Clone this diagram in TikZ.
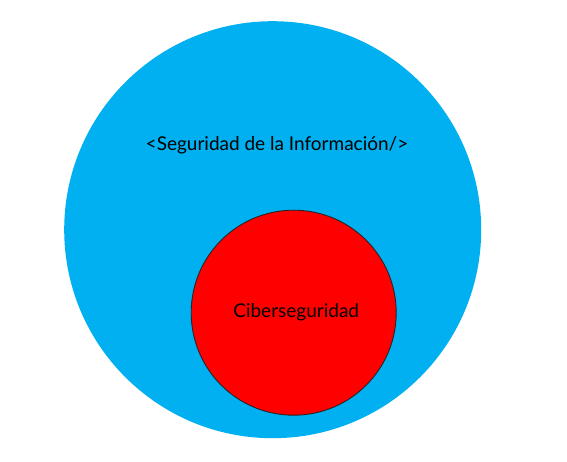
\documentclass[tikz,border=0pt]{standalone}
\usepackage{fontspec}
\setmainfont{Lato}
\usepackage{tikz}
\usetikzlibrary{positioning}
\definecolor{celeste}{HTML}{00B0F0}
\definecolor{rojo}{HTML}{FF0000}

\begin{document}
\begin{tikzpicture}[
  x=1pt, y=1pt,
  font=\fontsize{19}{22}\selectfont,
  big/.style={circle, fill=celeste, draw=none, minimum size=417pt, inner sep=0pt},
  small/.style={circle, fill=rojo, draw=black!85, line width=0.9pt, minimum size=205pt, inner sep=0pt},
  lbl/.style={inner sep=0pt, text=black}
]
\useasboundingbox (0,0) rectangle (567,461);
\node[big] (seg) at (272.7,231.3) {};
\node[small] (ciber) at (293.7,148.3) {};
\node[lbl] (segtxt) at (277,316) {<Seguridad de la Información/>};
\node[lbl] at (ciber.center) [xshift=2.5pt] (cibertxt) {Ciberseguridad};
\end{tikzpicture}
\end{document}
